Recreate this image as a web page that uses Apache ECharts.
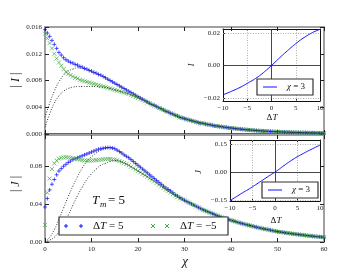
<!DOCTYPE html>
<html><head><meta charset="utf-8">
<script src="https://cdn.jsdelivr.net/npm/echarts@6/dist/echarts.min.js"></script>
<style>html,body{margin:0;padding:0;background:#fff}#c{width:360px;height:270px}</style>
</head><body><div id="c"></div>
<script>
// ---------- data ----------
const chiHead = [0,0.5,1,1.5,2,2.5,3,3.5,4,4.5,5,5.5,6,6.5,7,7.5,8,8.5,9,9.5,10,10.5,11,11.5,12,12.5,13,13.5,14,14.5,15,15.5,16,16.5,17,17.5,18,18.5,19,19.5,20,20.5,21,21.5,22,22.5,23,23.5,24,24.5,25,25.5,26,26.5,27,27.5,28,28.5,29,29.5,30];
const chiTail = [30.5,31,31.5,32,32.5,33,33.5,34,34.5,35,35.5,36,36.5,37,37.5,38,38.5,39,39.5,40,40.5,41,41.5,42,42.5,43,43.5,44,44.5,45,45.5,46,46.5,47,47.5,48,48.5,49,49.5,50,50.5,51,51.5,52,52.5,53,53.5,54,54.5,55,55.5,56,56.5,57,57.5,58,58.5,59,59.5,60];

// |I|
const blueIHead = [.0156,.0151,.0146,.0140,.0134,.0128,.0122,.0118,.0114,.0111,.0109,.0107,.0106,.0104,.0103,.0101,.0100,.0098,.0097,.0095,.0094,.0092,.0091,.0089,.0088,.0086,.0084,.0082,.0080,.0078,.0076,.0074,.0072,.0070,.0068,.0066,.0064,.0062,.0060,.0058,.0056,.0054,.0052,.0050,.0048,.0046,.0044,.0043,.0041,.0039,.0038,.0036,.0034,.0033,.0031,.0030,.0028,.0027,.0025,.0024,.0023];
const greenIHead = [.0150,.0143,.0136,.0128,.0120,.0113,.0107,.0102,.0097,.0093,.0090,.0088,.0086,.0084,.0083,.0081,.0080,.0079,.0078,.0077,.0076,.0075,.0074,.0073,.0072,.0071,.0070,.0069,.0068,.0067,.0066,.0065,.0064,.0063,.0062,.0061,.0060,.0058,.0057,.0055,.0054,.0052,.0051,.0049,.0047,.0046,.0044,.0042,.0041,.0039,.0037,.0036,.0034,.0033,.0031,.0029,.0028,.0027,.0025,.0024,.0023];
const tailI = [.0022,.0021,.0020,.0019,.0018,.0017,.0016,.0016,.0015,.0014,.0014,.0013,.0012,.0012,.0011,.0011,.0010,.0010,.0009,.0009,.00085,.0008,.00077,.00073,.0007,.00066,.00063,.0006,.00057,.00054,.00051,.00049,.00046,.00044,.00042,.0004,.00038,.00036,.00034,.00033,.00031,.0003,.00028,.00027,.00026,.00025,.00024,.00023,.00022,.00021,.0002,.00019,.00018,.00017,.00017,.00016,.00015,.00015,.00014,.00013];

// |J|
const blueJHead = [.037,.046,.055,.061,.066,.071,.075,.0775,.080,.082,.084,.0855,.087,.088,.089,.090,.091,.092,.093,.094,.095,.096,.097,.098,.0985,.099,.0995,.0997,.0997,.0992,.0985,.097,.0955,.094,.092,.0905,.089,.087,.085,.083,.081,.079,.077,.075,.073,.071,.069,.067,.065,.063,.061,.059,.057,.0555,.054,.052,.050,.0485,.047,.0455,.044];
const greenJHead = [.018,.052,.067,.077,.083,.086,.088,.089,.0893,.0895,.0893,.089,.0885,.088,.0875,.087,.0865,.086,.086,.086,.086,.0862,.0865,.0868,.087,.0873,.0875,.0876,.0875,.0873,.087,.0863,.0855,.0845,.0835,.0823,.081,.0795,.078,.0765,.075,.0735,.072,.0705,.069,.0673,.0657,.064,.0623,.0605,.0588,.057,.0553,.0537,.052,.0505,.049,.0475,.046,.045,.044];
const tailJ = [.0427,.0415,.0402,.039,.0377,.0365,.0352,.034,.033,.032,.031,.030,.029,.028,.027,.026,.0252,.0245,.0237,.023,.0222,.0215,.0207,.020,.0194,.0187,.0181,.0175,.0169,.0162,.0156,.015,.0145,.014,.0135,.013,.0125,.012,.0115,.011,.0106,.0103,.0099,.0095,.0092,.0088,.0085,.0082,.0079,.0076,.0073,.007,.0067,.0065,.0062,.0059,.0057,.0055,.0052,.005];

// dotted approximations
const dotChi = [0,1,2,3,4,5,6,7,8,9,10,11,12,13,14,15,16,17,18,19,20,21,22,23,24,25,26,27,28,29,30,32,34,36,38,40,42,44,46,48,50,52,54,56,58,60];
const dotI1 = [.0025,.0046,.0064,.0078,.0088,.0094,.0097,.0099,.0098,.0097,.0094,.0091,.0088,.0084,.0080,.0076,.0072,.0068,.0064,.0060,.0056,.0052,.0048,.0044,.0041,.0038,.0034,.0031,.0028,.0025,.0023];
const dotI2 = [.0010,.0030,.0046,.0057,.0064,.0068,.0070,.0071,.0071,.0071,.0071,.0071,.0070,.0070,.0068,.0066,.0064,.0062,.0060,.0057,.0054,.0051,.0047,.0044,.0041,.0037,.0034,.0031,.0028,.0025,.0023];
const dotTailI = [.0019,.0016,.0013,.0011,.0009,.00073,.0006,.00049,.0004,.00033,.00027,.00023,.00019,.00016,.00013];
const dotJ1 = [0,.005,.013,.024,.036,.048,.059,.069,.078,.085,.090,.094,.097,.099,.0997,.0985,.0955,.092,.089,.085,.081,.077,.073,.069,.065,.061,.057,.054,.050,.047,.044];
const dotJ2 = [0,.002,.005,.011,.019,.028,.039,.049,.058,.066,.072,.077,.081,.083,.085,.086,.0855,.0835,.081,.078,.075,.072,.069,.0657,.0623,.0588,.0553,.052,.049,.046,.044];
const dotTailJ = [.039,.034,.030,.026,.023,.020,.0175,.015,.013,.011,.0095,.0082,.007,.0059,.005];

// insets (chi = 3)
const dT = [-10,-9,-8,-7,-6,-5,-4,-3,-2,-1,0,1,2,3,4,5,6,7,8,9,10];
const insetI = [-.0180,-.0168,-.0155,-.0142,-.0127,-.0110,-.0093,-.0074,-.0052,-.0027,0,.0028,.0056,.0083,.0109,.0134,.0157,.0177,.0195,.0210,.0222];
const insetJ = [-.152,-.138,-.123,-.108,-.094,-.079,-.063,-.047,-.031,-.015,0,.017,.035,.052,.068,.083,.096,.109,.121,.133,.145];

// ticks
const mainXTicks = [0,10,20,30,40,50,60];
const mainIYTicks = [0,0.004,0.008,0.012,0.016];
const mainJYTicks = [0,0.04,0.08];
const insetXTicks = [-10,-5,0,5,10];
const insetIYTicks = [-0.02,0,0.02];
const insetJYTicks = [-0.15,0,0.15];
const insetXGrid = [-5,5];

// ---------- chart ----------
const FONT = 'Liberation Serif';
const GRAY = '#a0a0a0';
const BLUE = '#1010ff';
const GREEN = '#3fa83f';
const pair = (xs, ys) => xs.map((x, i) => [x, ys[i]]);
const minus = s => s.replace('-', '\u2212');

function tick(len, show) { return {show: show !== false, inside: true, length: len, lineStyle: {color: '#222', width: 1}}; }
function line(color, w) { return {show: true, onZero: false, lineStyle: {color: color, width: w}}; }
const lbl = (extra) => Object.assign({fontFamily: FONT, fontSize: 7, color: '#222'}, extra);

const xAxis = [
  {gridIndex:0, type:'value', min:0, max:60, interval:10, position:'bottom', axisLine:line('#333',2.5), axisTick:tick(4), axisLabel:{show:false}, splitLine:{show:false}},
  {gridIndex:0, type:'value', min:0, max:60, interval:10, position:'top', axisLine:line(GRAY,2), axisTick:tick(4), axisLabel:{show:false}, splitLine:{show:false}},
  {gridIndex:1, type:'value', min:0, max:60, interval:10, position:'bottom', axisLine:line(GRAY,2), axisTick:tick(4), axisLabel:lbl({margin:4, formatter: v => String(v)}), splitLine:{show:false}},
  {gridIndex:1, type:'value', min:0, max:60, interval:10, position:'top', axisLine:line(GRAY,2), axisTick:tick(4), axisLabel:{show:false}, splitLine:{show:false}},
  {gridIndex:2, type:'value', min:-10, max:10, interval:5, position:'bottom', axisLine:line('#111',1), axisTick:tick(2), axisLabel:lbl({margin:4, formatter: v => minus(String(v))}), splitLine:{show:false}},
  {gridIndex:2, type:'value', min:-10, max:10, interval:5, position:'top', axisLine:line('#111',1), axisTick:tick(2), axisLabel:{show:false}, splitLine:{show:false}},
  {gridIndex:3, type:'value', min:-10, max:10, interval:5, position:'bottom', axisLine:line('#111',1), axisTick:tick(2), axisLabel:lbl({margin:4, formatter: v => minus(String(v))}), splitLine:{show:false}},
  {gridIndex:3, type:'value', min:-10, max:10, interval:5, position:'top', axisLine:line('#111',1), axisTick:tick(2), axisLabel:{show:false}, splitLine:{show:false}}
];
const yAxis = [
  {gridIndex:0, type:'value', min:0, max:0.016, interval:0.004, position:'left', axisLine:line(GRAY,2), axisTick:tick(4), axisLabel:lbl({margin:3, formatter: v => v.toFixed(3)}), splitLine:{show:false}},
  {gridIndex:0, type:'value', min:0, max:0.016, interval:0.004, position:'right', axisLine:line(GRAY,2), axisTick:tick(4), axisLabel:{show:false}, splitLine:{show:false}},
  {gridIndex:1, type:'value', min:0, max:0.113, position:'left', axisLine:line(GRAY,2), axisTick:Object.assign(tick(4),{customValues:mainJYTicks}), axisLabel:lbl({margin:3, customValues:mainJYTicks, formatter: v => v.toFixed(2)}), splitLine:{show:false}},
  {gridIndex:1, type:'value', min:0, max:0.113, position:'right', axisLine:line(GRAY,2), axisTick:Object.assign(tick(4),{customValues:mainJYTicks}), axisLabel:{show:false}, splitLine:{show:false}},
  {gridIndex:2, type:'value', min:-0.0218, max:0.0224, position:'left', axisLine:line('#111',1), axisTick:Object.assign(tick(2),{customValues:insetIYTicks}), axisLabel:lbl({margin:3, customValues:insetIYTicks, formatter: v => minus(v.toFixed(2))}), splitLine:{show:false}},
  {gridIndex:2, type:'value', min:-0.0218, max:0.0224, position:'right', axisLine:line('#111',1), axisTick:{show:false}, axisLabel:{show:false}, splitLine:{show:false}},
  {gridIndex:3, type:'value', min:-0.155, max:0.172, position:'left', axisLine:line('#111',1), axisTick:Object.assign(tick(2),{customValues:insetJYTicks}), axisLabel:lbl({margin:3, customValues:insetJYTicks, formatter: v => minus(v.toFixed(2))}), splitLine:{show:false}},
  {gridIndex:3, type:'value', min:-0.155, max:0.172, position:'right', axisLine:line('#111',1), axisTick:{show:false}, axisLabel:{show:false}, splitLine:{show:false}}
];

const PLUS = 'path://M5,0L5,10M0,5L10,5';
const CROSS = 'path://M0,0L10,10M0,10L10,0';
function markers(xi, yi, xs, ys, sym, col) {
  return {type:'scatter', xAxisIndex:xi, yAxisIndex:yi, data:pair(xs, ys), symbol:sym, symbolSize:4,
    itemStyle:{color:'rgba(0,0,0,0)', borderColor:col, borderWidth:0.9}, z:2, silent:true};
}
function dotted(xi, yi, xs, ys) {
  return {type:'line', xAxisIndex:xi, yAxisIndex:yi, data:pair(xs, ys), showSymbol:false, symbol:'none', smooth:true,
    lineStyle:{color:'#222', width:0.9, type:[1,1.6]}, z:3, silent:true};
}
const dotStyle = {color:'#999', width:0.8, type:[1,1.5]};
const solidStyle = {color:'#333', width:0.9, type:'solid'};
function insetSeries(xi, yi, ys, yGrid) {
  const ml = [];
  insetXGrid.forEach(v => ml.push({xAxis:v, lineStyle:dotStyle}));
  yGrid.filter(v => v !== 0).forEach(v => ml.push({yAxis:v, lineStyle:dotStyle}));
  ml.push({xAxis:0, lineStyle:solidStyle});
  ml.push({yAxis:0, lineStyle:solidStyle});
  return {type:'line', xAxisIndex:xi, yAxisIndex:yi, data:pair(dT, ys), showSymbol:false, symbol:'none', smooth:true,
    lineStyle:{color:BLUE, width:1}, z:5, silent:true,
    markLine:{silent:true, symbol:'none', label:{show:false}, animation:false, data:ml}};
}

const chiAll = chiHead.concat(chiTail);
const series = [
  markers(0,0, chiAll, blueIHead.concat(tailI), PLUS, BLUE),
  markers(0,0, chiAll, greenIHead.concat(tailI), CROSS, GREEN),
  dotted(0,0, dotChi, dotI1.concat(dotTailI)),
  dotted(0,0, dotChi, dotI2.concat(dotTailI)),
  markers(2,2, chiAll, blueJHead.concat(tailJ), PLUS, BLUE),
  markers(2,2, chiAll, greenJHead.concat(tailJ), CROSS, GREEN),
  dotted(2,2, dotChi, dotJ1.concat(dotTailJ)),
  dotted(2,2, dotChi, dotJ2.concat(dotTailJ)),
  insetSeries(4,4, insetI, insetIYTicks),
  insetSeries(6,6, insetJ, insetJYTicks)
];

// ---------- text / legends ----------
function txt(x, y, text, opt) {
  return Object.assign({type:'text', x:x, y:y, z:20, style:Object.assign({text:text, fontFamily:FONT, fontSize:12, fill:'#111',
    align:'center', verticalAlign:'middle', textAlign:'center', textVerticalAlign:'middle'}, (opt && opt.style) || {})}, (opt && opt.el) || {});
}
function richTxt(x, y, text, size, rot, align) {
  return {type:'text', x:x, y:y, rotation:rot || 0, z:20, style:{text:text, fontFamily:FONT, fontSize:size, fill:'#111',
    align:align || 'center', verticalAlign:'middle', textAlign:align || 'center', textVerticalAlign:'middle',
    rich:{i:{fontFamily:FONT, fontSize:size, fontStyle:'italic', fill:'#111'}, n:{fontFamily:FONT, fontSize:size, fill:'#111'}}}};
}
function seg(x1, y1, x2, y2, col, w) {
  return {type:'line', z:21, shape:{x1:x1, y1:y1, x2:x2, y2:y2}, style:{stroke:col, lineWidth:w || 1}};
}
function plusAt(cx, cy, col) { return [seg(cx-2, cy, cx+2, cy, col), seg(cx, cy-2, cx, cy+2, col)]; }
function crossAt(cx, cy, col) { return [seg(cx-2, cy-2, cx+2, cy+2, col), seg(cx-2, cy+2, cx+2, cy-2, col)]; }
function box(x, y, w, h) { return {type:'rect', z:19, shape:{x:x, y:y, width:w, height:h}, style:{fill:'#fff', stroke:'#333', lineWidth:1.2}}; }

const graphic = [
  richTxt(16, 80, '{n|| }{i|I}{n| |}', 12, Math.PI/2),
  richTxt(16, 184, '{n|| }{i|J}{n| |}', 12, Math.PI/2),
  richTxt(185, 262, '{i|χ}', 13),
  richTxt(192, 65, '{i|I}', 8, Math.PI/2),
  richTxt(272, 118, '{n|Δ}{i|T}', 9),
  richTxt(199, 172, '{i|J}', 8, Math.PI/2),
  richTxt(276, 221, '{n|Δ}{i|T}', 9),
  // T_m = 5
  richTxt(92, 201, '{i|T}', 13, 0, 'left'),
  richTxt(100, 205, '{i|m}', 9, 0, 'left'),
  richTxt(108, 201, '{n|= 5}', 13, 0, 'left'),
  // main legend
  box(59, 217, 169, 18),
  ...plusAt(66, 226, BLUE), ...plusAt(81, 226, BLUE),
  richTxt(93, 226, '{n|Δ}{i|T}{n| = 5}', 11, 0, 'left'),
  ...crossAt(153, 226, GREEN), ...crossAt(167, 226, GREEN),
  richTxt(180, 226, '{n|Δ}{i|T}{n| = \u22125}', 11, 0, 'left'),
  // inset legends
  box(257, 79, 56, 16),
  seg(263, 87, 277, 87, BLUE, 1),
  richTxt(287, 87, '{i|χ}{n| = 3}', 9, 0, 'left'),
  box(262, 182, 56, 16),
  seg(268, 190, 282, 190, BLUE, 1),
  richTxt(292, 190, '{i|χ}{n| = 3}', 9, 0, 'left')
];

const chart = echarts.init(document.getElementById('c'), null, {renderer:'canvas'});
chart.setOption({
  animation:false,
  backgroundColor:'#fff',
  grid:[
    {left:45, top:27, width:279, height:107},
    {left:45, top:135, width:279, height:107},
    {left:223, top:29, width:97, height:72, show:true, backgroundColor:'#fff', borderWidth:0},
    {left:230, top:140, width:90, height:61, show:true, backgroundColor:'#fff', borderWidth:0}
  ],
  xAxis:xAxis,
  yAxis:yAxis,
  series:series,
  graphic:graphic
});
</script></body></html>
